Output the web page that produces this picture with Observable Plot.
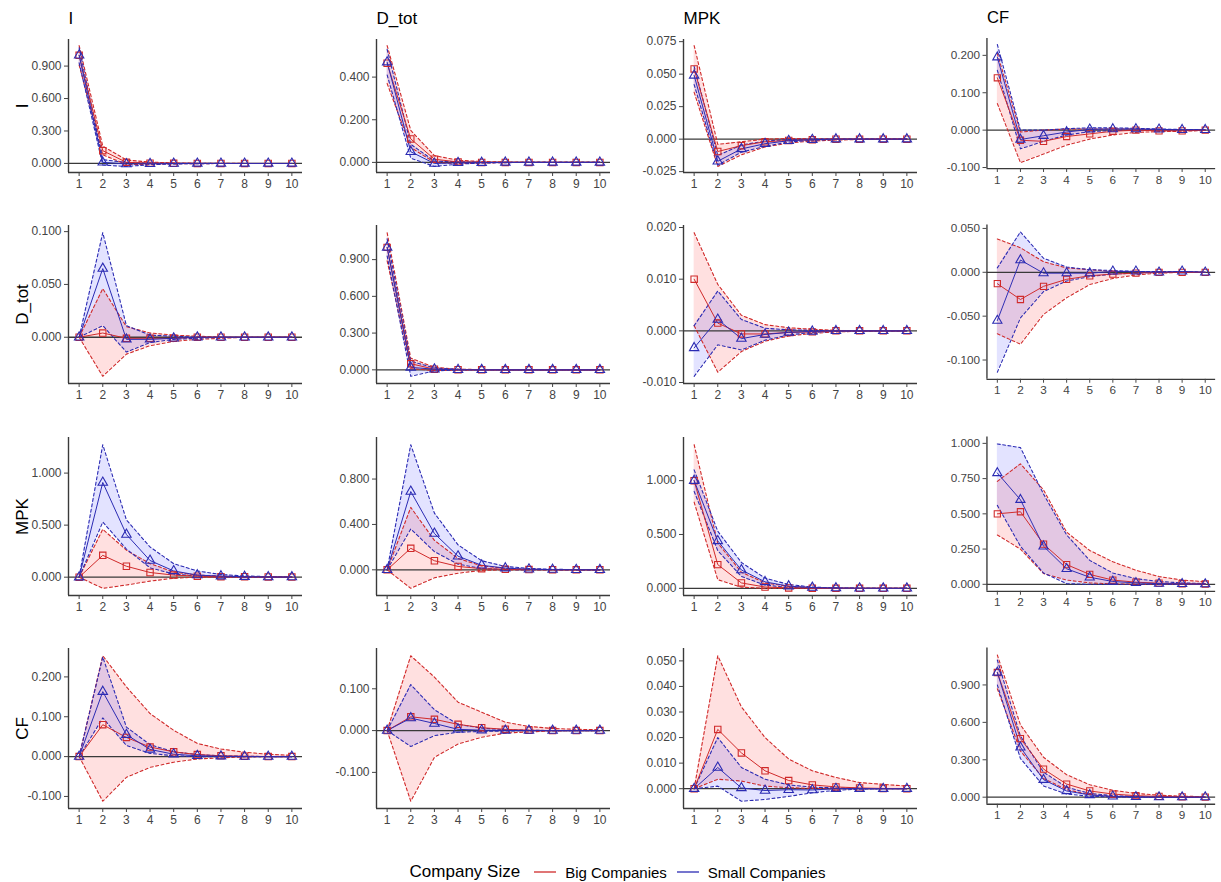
<!DOCTYPE html>
<html><head><meta charset="utf-8">
<script src="https://cdn.jsdelivr.net/npm/d3@7"></script>
<script src="https://cdn.jsdelivr.net/npm/@observablehq/plot@0.6"></script>
<style>
body{margin:0;background:#fff;}
#chart{position:relative;width:1221px;height:882px;overflow:hidden;background:#fff;}
.panel{position:absolute;}
#legend{position:absolute;top:862px;left:7px;width:1221px;display:flex;justify-content:center;align-items:center;font-family:"Liberation Sans",Arial,sans-serif;color:#000;font-size:15px;}
#legend .item{display:flex;align-items:center;margin-left:10px;}
#legend svg{margin-right:9px;}
</style></head>
<body><div id="chart"></div>
<script>
const steps = [1,2,3,4,5,6,7,8,9,10];
const variables = ["I","D_tot","MPK","CF"];
const seriesNames = ["Big Companies","Small Companies"];
const legendTitle = "Company Size";

// Row I (response I)
const p11_big=[1.000,0.118,0.010,0.002,0.001,0,0,0,0,0];
const p11_bigLo=[0.910,0.080,-0.010,-0.008,-0.004,-0.002,-0.001,0,0,0];
const p11_bigHi=[1.090,0.160,0.032,0.012,0.005,0.002,0.001,0,0,0];
const p11_small=[1.000,0.010,-0.005,-0.003,-0.001,0,0,0,0,0];
const p11_smallLo=[0.930,-0.015,-0.028,-0.012,-0.005,-0.002,-0.001,0,0,0];
const p11_smallHi=[1.070,0.035,0.008,0.003,0.001,0.001,0,0,0,0];
const p11_ticks=[0,0.3,0.6,0.9];

const p12_big=[0.465,0.110,0.015,0.002,0,0,0,0,0,0];
const p12_bigLo=[0.370,0.070,0.000,-0.006,-0.003,-0.001,0,0,0,0];
const p12_bigHi=[0.548,0.150,0.032,0.010,0.004,0.002,0.001,0,0,0];
const p12_small=[0.470,0.050,-0.005,-0.002,-0.001,0,0,0,0,0];
const p12_smallLo=[0.410,0.020,-0.019,-0.008,-0.003,-0.001,0,0,0,0];
const p12_smallHi=[0.530,0.085,0.006,0.003,0.001,0,0,0,0,0];
const p12_ticks=[0,0.2,0.4];

const p13_big=[0.054,-0.0095,-0.005,-0.002,-0.001,-0.0005,0,0,0,0];
const p13_bigLo=[0.036,-0.021,-0.012,-0.006,-0.003,-0.0015,-0.0007,-0.0003,0,0];
const p13_bigHi=[0.072,-0.004,-0.002,0.000,0.0005,0.0003,0.0002,0.0001,0,0];
const p13_small=[0.049,-0.017,-0.0075,-0.0035,-0.0012,-0.0004,0,0,0,0];
const p13_smallLo=[0.042,-0.020,-0.010,-0.0055,-0.0022,-0.0008,-0.0003,0,0,0];
const p13_smallHi=[0.056,-0.0125,-0.0045,-0.0015,-0.0003,0,0,0,0,0];
const p13_ticks=[-0.025,0,0.025,0.05,0.075];

const p14_big=[0.140,-0.027,-0.030,-0.017,-0.010,-0.003,0.000,-0.002,-0.002,0.000];
const p14_bigLo=[0.071,-0.087,-0.064,-0.040,-0.024,-0.013,-0.006,-0.004,-0.003,-0.001];
const p14_bigHi=[0.205,-0.005,0.000,0.003,0.003,0.003,0.003,0.001,0.001,0.001];
const p14_small=[0.195,-0.025,-0.015,-0.005,0.002,0.003,0.003,0.002,0.001,0.001];
const p14_smallLo=[0.160,-0.050,-0.030,-0.013,-0.004,-0.001,0,0,0,0];
const p14_smallHi=[0.229,0.000,0.000,0.004,0.006,0.006,0.005,0.003,0.002,0.001];
const p14_ticks=[-0.1,0,0.1,0.2];

// Row D_tot
const p21_big=[0,0.004,-0.001,-0.001,-0.001,0,0,0,0,0];
const p21_bigLo=[0,-0.037,-0.016,-0.008,-0.004,-0.002,-0.001,0,0,0];
const p21_bigHi=[0,0.046,0.010,0.004,0.002,0.001,0,0,0,0];
const p21_small=[0,0.065,-0.002,-0.002,-0.001,0,0,0,0,0];
const p21_smallLo=[0,0.011,-0.014,-0.005,-0.002,-0.001,0,0,0,0];
const p21_smallHi=[0,0.099,0.011,0.002,0.001,0,0,0,0,0];
const p21_ticks=[0,0.05,0.1];

const p22_big=[1.000,0.050,0.005,0.001,0,0,0,0,0,0];
const p22_bigLo=[0.890,0.010,-0.006,-0.003,-0.001,0,0,0,0,0];
const p22_bigHi=[1.120,0.095,0.020,0.005,0.002,0,0,0,0,0];
const p22_small=[1.000,0.020,0.005,0.001,0,0,0,0,0,0];
const p22_smallLo=[0.930,-0.053,-0.008,-0.002,0,0,0,0,0,0];
const p22_smallHi=[1.070,0.070,0.015,0.004,0.001,0,0,0,0,0];
const p22_ticks=[0,0.3,0.6,0.9];

const p23_big=[0.0100,0.0015,-0.0006,-0.0006,-0.0003,-0.0002,0,0,0,0];
const p23_bigLo=[0.0010,-0.0080,-0.0040,-0.0020,-0.0010,-0.0005,-0.0002,-0.0001,0,0];
const p23_bigHi=[0.0190,0.0090,0.0030,0.0012,0.0006,0.0003,0.0001,0,0,0];
const p23_small=[-0.0033,0.0022,-0.0015,-0.0007,-0.0003,-0.0001,0,0,0,0];
const p23_smallLo=[-0.0088,-0.0027,-0.0037,-0.0018,-0.0008,-0.0003,-0.0001,0,0,0];
const p23_smallHi=[0.0010,0.0077,0.0022,0.0005,0.0002,0.0001,0,0,0,0];
const p23_ticks=[-0.01,0,0.01,0.02];

const p24_big=[-0.013,-0.031,-0.016,-0.008,-0.004,-0.002,-0.001,0,0,0];
const p24_bigLo=[-0.070,-0.082,-0.048,-0.029,-0.014,-0.007,-0.003,-0.001,0,0];
const p24_bigHi=[0.038,0.028,0.012,0.005,0.003,0.001,0.001,0,0,0];
const p24_small=[-0.055,0.014,-0.001,-0.001,-0.001,0.001,0.001,0,0.001,0];
const p24_smallLo=[-0.114,-0.052,-0.022,-0.010,-0.005,-0.002,-0.001,0,0,0];
const p24_smallHi=[0.005,0.046,0.016,0.006,0.003,0.002,0.001,0.001,0.001,0];
const p24_ticks=[-0.1,-0.05,0,0.05];

// Row MPK
const p31_big=[0,0.21,0.105,0.045,0.020,0.010,0.005,0.004,0.002,0.001];
const p31_bigLo=[0,-0.107,-0.075,-0.038,-0.010,0,0,0,0,0];
const p31_bigHi=[0,0.46,0.26,0.13,0.05,0.02,0.01,0.005,0.003,0.002];
const p31_small=[0,0.91,0.41,0.16,0.06,0.02,0.01,0.005,0.002,0.001];
const p31_smallLo=[0,0.53,0.27,0.09,0.03,0.01,0.003,0.001,0,0];
const p31_smallHi=[0,1.273,0.55,0.29,0.13,0.06,0.025,0.012,0.005,0.002];
const p31_ticks=[0,0.5,1];

const p32_big=[0,0.19,0.08,0.03,0.01,0.005,0.002,0.001,0,0];
const p32_bigLo=[0,-0.163,-0.07,-0.03,-0.005,0,0,0,0,0];
const p32_bigHi=[0,0.55,0.26,0.10,0.035,0.012,0.005,0.002,0.001,0];
const p32_small=[0,0.69,0.32,0.12,0.04,0.015,0.005,0.002,0.001,0];
const p32_smallLo=[0,0.36,0.16,0.05,0.012,0.003,0.001,0,0,0];
const p32_smallHi=[0,1.103,0.50,0.22,0.08,0.03,0.012,0.005,0.002,0.001];
const p32_ticks=[0,0.4,0.8];

const p33_big=[1.00,0.22,0.05,0.012,0.004,0.001,0,0,0,0];
const p33_bigLo=[0.80,0.08,0.01,0.001,0,0,0,0,0,0];
const p33_bigHi=[1.334,0.42,0.15,0.05,0.018,0.006,0.002,0.001,0,0];
const p33_small=[1.00,0.44,0.17,0.06,0.02,0.007,0.002,0.001,0,0];
const p33_smallLo=[0.90,0.35,0.11,0.03,0.008,0.002,0,0,0,0];
const p33_smallHi=[1.10,0.53,0.24,0.095,0.035,0.012,0.004,0.001,0,0];
const p33_ticks=[0,0.5,1];

const p34_big=[0.500,0.515,0.285,0.140,0.070,0.030,0.015,0.008,0.004,0.002];
const p34_bigLo=[0.350,0.250,0.076,0.030,0.010,0.003,0.001,0,0,0];
const p34_bigHi=[0.730,0.855,0.670,0.370,0.240,0.160,0.100,0.055,0.030,0.018];
const p34_small=[0.790,0.600,0.270,0.110,0.050,0.020,0.010,0.005,0.003,0.001];
const p34_smallLo=[0.560,0.270,0.080,0.005,0,0,0,0,0,0];
const p34_smallHi=[0.996,0.970,0.640,0.350,0.170,0.080,0.040,0.020,0.010,0.005];
const p34_ticks=[0,0.25,0.5,0.75,1];

// Row CF
const p41_big=[0,0.080,0.048,0.024,0.012,0.005,0.002,0.001,0,0];
const p41_bigLo=[0,-0.112,-0.052,-0.027,-0.014,-0.006,-0.003,-0.001,0,0];
const p41_bigHi=[0,0.253,0.175,0.108,0.066,0.033,0.019,0.011,0.006,0.003];
const p41_small=[0,0.163,0.055,0.018,0.006,0.002,0.001,0,0,0];
const p41_smallLo=[0,0.097,0.028,0.008,0.002,0,0,0,0,0];
const p41_smallHi=[0,0.250,0.074,0.030,0.012,0.005,0.002,0.001,0,0];
const p41_ticks=[-0.1,0,0.1,0.2];

const p42_big=[0,0.033,0.027,0.015,0.007,0.003,0.001,0,0,0];
const p42_bigLo=[0,-0.169,-0.064,-0.032,-0.016,-0.006,-0.003,-0.001,0,0];
const p42_bigHi=[0,0.179,0.128,0.068,0.044,0.020,0.010,0.005,0.003,0.002];
const p42_small=[0,0.030,0.017,0.003,0.001,0,0,0,0,0];
const p42_smallLo=[0,-0.038,-0.012,-0.004,-0.002,-0.001,0,0,0,0];
const p42_smallHi=[0,0.110,0.050,0.015,0.006,0.002,0.001,0,0,0];
const p42_ticks=[-0.1,0,0.1];

const p43_big=[0,0.0232,0.0140,0.0070,0.0032,0.0015,0.0007,0.0003,0.0001,0];
const p43_bigLo=[0,0.0037,0.0030,0.0010,0.0004,0.0001,0,0,0,0];
const p43_bigHi=[0,0.0520,0.0320,0.0200,0.0116,0.0070,0.0044,0.0024,0.0017,0.0010];
const p43_small=[0,0.0083,0.0003,-0.0007,-0.0004,-0.0005,0,0,0,0];
const p43_smallLo=[0,0.0010,-0.0049,-0.0042,-0.0030,-0.0016,-0.0006,-0.0002,0,0];
const p43_smallHi=[0,0.0200,0.0083,0.0037,0.0015,0.0006,0.0003,0.0001,0,0];
const p43_ticks=[0,0.01,0.02,0.03,0.04,0.05];

const p44_big=[1.000,0.470,0.225,0.105,0.050,0.025,0.012,0.006,0.003,0.001];
const p44_bigLo=[0.870,0.370,0.150,0.060,0.020,0.007,0.002,0.001,0,0];
const p44_bigHi=[1.140,0.580,0.320,0.180,0.100,0.055,0.030,0.016,0.008,0.004];
const p44_small=[1.000,0.400,0.140,0.050,0.018,0.006,0.002,0.001,0,0];
const p44_smallLo=[0.900,0.310,0.090,0.025,0.007,0.002,0,0,0,0];
const p44_smallHi=[1.100,0.490,0.200,0.080,0.030,0.012,0.005,0.002,0.001,0];
const p44_ticks=[0,0.3,0.6,0.9];

// Table built from the named arrays
const panels = [
 [[p11_big,p11_bigLo,p11_bigHi,p11_small,p11_smallLo,p11_smallHi,p11_ticks],
  [p12_big,p12_bigLo,p12_bigHi,p12_small,p12_smallLo,p12_smallHi,p12_ticks],
  [p13_big,p13_bigLo,p13_bigHi,p13_small,p13_smallLo,p13_smallHi,p13_ticks],
  [p14_big,p14_bigLo,p14_bigHi,p14_small,p14_smallLo,p14_smallHi,p14_ticks]],
 [[p21_big,p21_bigLo,p21_bigHi,p21_small,p21_smallLo,p21_smallHi,p21_ticks],
  [p22_big,p22_bigLo,p22_bigHi,p22_small,p22_smallLo,p22_smallHi,p22_ticks],
  [p23_big,p23_bigLo,p23_bigHi,p23_small,p23_smallLo,p23_smallHi,p23_ticks],
  [p24_big,p24_bigLo,p24_bigHi,p24_small,p24_smallLo,p24_smallHi,p24_ticks]],
 [[p31_big,p31_bigLo,p31_bigHi,p31_small,p31_smallLo,p31_smallHi,p31_ticks],
  [p32_big,p32_bigLo,p32_bigHi,p32_small,p32_smallLo,p32_smallHi,p32_ticks],
  [p33_big,p33_bigLo,p33_bigHi,p33_small,p33_smallLo,p33_smallHi,p33_ticks],
  [p34_big,p34_bigLo,p34_bigHi,p34_small,p34_smallLo,p34_smallHi,p34_ticks]],
 [[p41_big,p41_bigLo,p41_bigHi,p41_small,p41_smallLo,p41_smallHi,p41_ticks],
  [p42_big,p42_bigLo,p42_bigHi,p42_small,p42_smallLo,p42_smallHi,p42_ticks],
  [p43_big,p43_bigLo,p43_bigHi,p43_small,p43_smallLo,p43_smallHi,p43_ticks],
  [p44_big,p44_bigLo,p44_bigHi,p44_small,p44_smallLo,p44_smallHi,p44_ticks]]
];

const RED = "#d02a2a", BLUE = "#2b2bb3";
const REDFILL = "#ff0000", BLUEFILL = "#0000ff";
const TICKFONT = '"Liberation Sans",Arial,sans-serif';
const TITLEFONT = '"Liberation Sans",Arial,sans-serif';

// layout
const colLeft = [0, 308, 615, 920];
const plotTop = [39, 225, 437, 648];
const plotBottom = [172, 383, 595, 808];
const ML = 68, PW = 234, MB = 30;

const chart = document.getElementById("chart");

for (let r = 0; r < 4; r++) {
  for (let c = 0; c < 4; c++) {
    const [big, bigLo, bigHi, small, smallLo, smallHi, ticks] = panels[r][c];
    const data = steps.map((s, i) => ({step: s, big: big[i], bigLo: bigLo[i], bigHi: bigHi[i],
      small: small[i], smallLo: smallLo[i], smallHi: smallHi[i]}));
    const all = [...big, ...bigLo, ...bigHi, ...small, ...smallLo, ...smallHi, 0];
    const lo = d3.min(all), hi = d3.max(all), pad = (hi - lo) * 0.05;
    const yDom = [lo - pad, hi + pad];
    const [sx0, sx1] = d3.extent(steps);
    const xpad = (sx1 - sx0) * 0.05;
    const xDom = [sx0 - xpad, sx1 + xpad];
    const MT = r === 0 ? 39 : 25;
    const H = plotBottom[r] - plotTop[r] + MT + MB;

    const marks = [
      Plot.areaY(data, {x: "step", y1: "bigLo", y2: "bigHi", fill: REDFILL, fillOpacity: 0.12}),
      Plot.areaY(data, {x: "step", y1: "smallLo", y2: "smallHi", fill: BLUEFILL, fillOpacity: 0.11}),
      Plot.ruleY([0], {stroke: "#3a3a3a", strokeWidth: 1.3}),
      Plot.lineY(data, {x: "step", y: "bigLo", stroke: RED, strokeWidth: 1.1, strokeDasharray: "3,2.5"}),
      Plot.lineY(data, {x: "step", y: "bigHi", stroke: RED, strokeWidth: 1.1, strokeDasharray: "3,2.5"}),
      Plot.lineY(data, {x: "step", y: "smallLo", stroke: BLUE, strokeWidth: 1.1, strokeDasharray: "3,2.5"}),
      Plot.lineY(data, {x: "step", y: "smallHi", stroke: BLUE, strokeWidth: 1.1, strokeDasharray: "3,2.5"}),
      Plot.lineY(data, {x: "step", y: "big", stroke: RED, strokeWidth: 1}),
      Plot.lineY(data, {x: "step", y: "small", stroke: BLUE, strokeWidth: 1}),
      Plot.dot(data, {x: "step", y: "big", symbol: "square", r: 3.6, stroke: RED, fill: "none", strokeWidth: 1.1}),
      Plot.dot(data, {x: "step", y: "small", symbol: "triangle", r: 3.5, stroke: BLUE, fill: "none", strokeWidth: 1.1}),
      Plot.ruleX([xDom[0]], {stroke: "#3a3a3a", strokeWidth: 1.4}),
      Plot.ruleY([yDom[0]], {stroke: "#3a3a3a", strokeWidth: 1.4}),
      Plot.axisX({ticks: steps, tickSize: 4, tickPadding: 3, tickFormat: d => String(d), label: null}),
      Plot.axisY({ticks: ticks, tickSize: 4, tickPadding: 3, tickFormat: d => d.toFixed(3), label: null})
    ];
    if (r === 0) {
      marks.push(Plot.text([variables[c]], {frameAnchor: "top-left", dy: -21, textAnchor: "start",
        lineAnchor: "middle", fontSize: 17, fill: "#000", fontFamily: TITLEFONT}));
    }
    if (c === 0) {
      marks.push(Plot.text([variables[r]], {frameAnchor: "left", dx: -46, rotate: -90, textAnchor: "middle",
        lineAnchor: "middle", fontSize: 17, fill: "#000", fontFamily: TITLEFONT}));
    }

    const svg = Plot.plot({
      width: ML + PW + 6, height: H,
      marginLeft: ML, marginRight: 6, marginTop: MT, marginBottom: MB,
      x: {domain: xDom, label: null},
      y: {domain: yDom, label: null},
      style: {fontFamily: TICKFONT, fontSize: "12px", color: "#444", background: "transparent", overflow: "visible"},
      marks
    });
    const div = document.createElement("div");
    div.className = "panel";
    div.style.left = colLeft[c] + "px";
    div.style.top = (plotTop[r] - MT) + "px";
    div.appendChild(svg);
    chart.appendChild(div);
  }
}

// legend
const legend = document.createElement("div");
legend.id = "legend";
const lt = document.createElement("span");
lt.textContent = legendTitle;
lt.style.fontSize = "17px";
lt.style.marginRight = "4px";
legend.appendChild(lt);
[RED, BLUE].forEach((col, i) => {
  const item = document.createElement("div");
  item.className = "item";
  item.innerHTML = `<svg width="22" height="10"><line x1="0" x2="22" y1="5" y2="5" stroke="${col}" stroke-width="1.3"/></svg>`;
  const t = document.createElement("span");
  t.textContent = seriesNames[i];
  item.appendChild(t);
  legend.appendChild(item);
});
chart.appendChild(legend);
</script>
</body></html>
